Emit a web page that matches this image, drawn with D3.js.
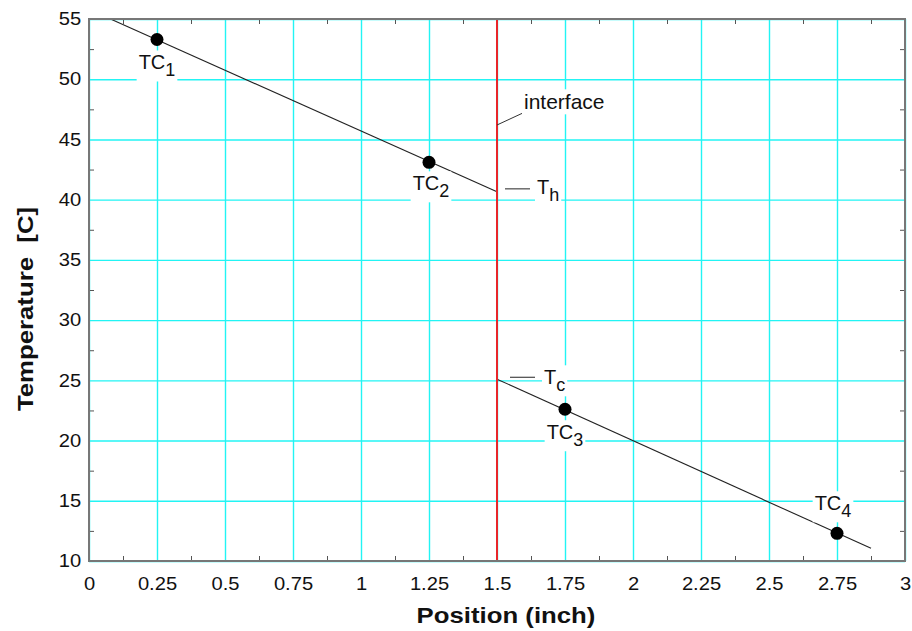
<!DOCTYPE html>
<html>
<head>
<meta charset="utf-8">
<script src="https://cdn.jsdelivr.net/npm/d3@7"></script>
<style>
  body { margin: 0; background: #fff; }
  text { font-family: "Liberation Sans", Arial, sans-serif; fill: #111; }
</style>
</head>
<body>
<div id="chart"></div>
<script>
// thermocouple readings
const tcNames = ["TC", "TC", "TC", "TC"];
const tcSubs = ["1", "2", "3", "4"];
const tcPos = [0.25, 1.25, 1.75, 2.75];
const tcTemp = [53.3, 43.1, 22.6, 12.3];

// fitted lines (hot side / cold side)
const hotLine = [[0.079, 55], [1.5, 40.65]];
const coldLine = [[1.5, 25.1], [2.875, 11.05]];
const interfaceX = 1.5;

const xTicks = [0, 0.25, 0.5, 0.75, 1, 1.25, 1.5, 1.75, 2, 2.25, 2.5, 2.75, 3];
const xTickLabels = ["0", "0.25", "0.5", "0.75", "1", "1.25", "1.5", "1.75", "2", "2.25", "2.5", "2.75", "3"];
const yTicks = [10, 15, 20, 25, 30, 35, 40, 45, 50, 55];
const xMinor = d3.range(0.125, 3, 0.25);
const yMinor = d3.range(12.5, 55, 5);

const width = 912, height = 631;
const margin = { top: 19, right: 7, bottom: 70, left: 89 };
const stretch = 1.12; // the original font runs a bit wide

const svg = d3.select("#chart").append("svg")
    .attr("width", width)
    .attr("height", height);

const x = d3.scaleLinear().domain([0, 3]).range([margin.left, width - margin.right]);
const y = d3.scaleLinear().domain([10, 55]).range([height - margin.bottom, margin.top]);

const plotW = x(3) - x(0), plotH = y(10) - y(55);

// --- grid lines ---
svg.append("g")
    .attr("transform", `translate(0, ${y(10)})`)
    .call(d3.axisBottom(x).tickValues(xTicks).tickSize(-plotH).tickFormat(""))
    .call(g => g.select(".domain").remove())
    .selectAll("line").attr("stroke", "#22f4f4").attr("stroke-width", 1.4);

svg.append("g")
    .attr("transform", `translate(${x(0)}, 0)`)
    .call(d3.axisLeft(y).tickValues(yTicks).tickSize(-plotW).tickFormat(""))
    .call(g => g.select(".domain").remove())
    .selectAll("line").attr("stroke", "#22f4f4").attr("stroke-width", 1.4);

// --- minor ticks (inward, all 4 sides) ---
const tickCol = "#555";
svg.append("g").attr("transform", `translate(0, ${y(10)})`)
    .call(d3.axisBottom(x).tickValues(xMinor).tickSize(-5).tickFormat(""))
    .call(g => g.select(".domain").remove())
    .selectAll("line").attr("stroke", tickCol);
svg.append("g").attr("transform", `translate(0, ${y(55)})`)
    .call(d3.axisTop(x).tickValues(xMinor).tickSize(-5).tickFormat(""))
    .call(g => g.select(".domain").remove())
    .selectAll("line").attr("stroke", tickCol);
svg.append("g").attr("transform", `translate(${x(0)}, 0)`)
    .call(d3.axisLeft(y).tickValues(yMinor).tickSize(-5).tickFormat(""))
    .call(g => g.select(".domain").remove())
    .selectAll("line").attr("stroke", tickCol);
svg.append("g").attr("transform", `translate(${x(3)}, 0)`)
    .call(d3.axisRight(y).tickValues(yMinor).tickSize(-5).tickFormat(""))
    .call(g => g.select(".domain").remove())
    .selectAll("line").attr("stroke", tickCol);

// --- tick labels ---
svg.append("g").attr("transform", `translate(0, ${y(10)})`)
    .call(d3.axisBottom(x).tickValues(xTicks).tickSize(0).tickPadding(16)
        .tickFormat((d, i) => xTickLabels[i]))
    .call(g => g.select(".domain").remove())
    .selectAll("text")
    .style("font-family", "Liberation Sans, Arial, sans-serif")
    .style("font-size", "18px").attr("fill", "#111")
    .attr("transform", `scale(${stretch},1)`);

svg.append("g").attr("transform", `translate(${x(0)}, 0)`)
    .call(d3.axisLeft(y).tickValues(yTicks).tickSize(0).tickPadding(7))
    .call(g => g.select(".domain").remove())
    .selectAll("text")
    .style("font-family", "Liberation Sans, Arial, sans-serif")
    .style("font-size", "18px").attr("fill", "#111")
    .attr("transform", `scale(${stretch},1)`);

// --- fitted lines ---
const line = d3.line().x(d => x(d[0])).y(d => y(d[1]));
svg.append("path").datum(hotLine).attr("d", line)
    .attr("fill", "none").attr("stroke", "#222").attr("stroke-width", 1.1);
svg.append("path").datum(coldLine).attr("d", line)
    .attr("fill", "none").attr("stroke", "#222").attr("stroke-width", 1.1);

// interface line
svg.append("line")
    .attr("x1", x(interfaceX)).attr("x2", x(interfaceX))
    .attr("y1", y(55)).attr("y2", y(10))
    .attr("stroke", "#e8262a").attr("stroke-width", 2);

// --- labels with white boxes ---
function label(px, py, main, sub, anchor, size) {
    const g = svg.append("g");
    const t = g.append("text")
        .attr("x", px).attr("y", py)
        .attr("text-anchor", anchor || "middle")
        .style("font-size", (size || 20) + "px");
    t.append("tspan").text(main);
    if (sub) {
        t.append("tspan").attr("dy", 7).style("font-size", "18px").text(sub);
    }
    const b = t.node().getBBox();
    g.insert("rect", "text")
        .attr("x", b.x - 2).attr("y", b.y - 1)
        .attr("width", b.width + 4).attr("height", b.height + 2)
        .attr("fill", "#fff");
    return g;
}

// TC labels
const labelOffsets = [[0, 30], [2, 28], [0, 30], [-4, -23]];
tcPos.forEach((p, i) => {
    label(x(p) + labelOffsets[i][0], y(tcTemp[i]) + labelOffsets[i][1], tcNames[i], tcSubs[i]);
});

// interface annotation
svg.append("line")
    .attr("x1", x(interfaceX)).attr("y1", y(46.2))
    .attr("x2", x(interfaceX) + 26).attr("y2", y(47.2))
    .attr("stroke", "#333").attr("stroke-width", 1);
label(x(interfaceX) + 27, y(47.5), "interface", null, "start", 21);

// Th / Tc markers
svg.append("line")
    .attr("x1", x(interfaceX) + 8).attr("x2", x(interfaceX) + 33)
    .attr("y1", y(40.9)).attr("y2", y(40.9))
    .attr("stroke", "#555").attr("stroke-width", 1.3);
label(x(interfaceX) + 40, y(40.9) + 5, "T", "h", "start");

svg.append("line")
    .attr("x1", x(interfaceX) + 13).attr("x2", x(interfaceX) + 38)
    .attr("y1", y(25.25)).attr("y2", y(25.25))
    .attr("stroke", "#555").attr("stroke-width", 1.3);
label(x(interfaceX) + 47, y(25.25) + 7, "T", "c", "start");

// points
svg.selectAll(".tc").data(tcPos).enter().append("circle")
    .attr("class", "tc")
    .attr("cx", d => x(d))
    .attr("cy", (d, i) => y(tcTemp[i]))
    .attr("r", 6.5)
    .attr("fill", "#000");

// frame
svg.append("rect")
    .attr("x", x(0)).attr("y", y(55))
    .attr("width", plotW).attr("height", plotH)
    .attr("fill", "none").attr("stroke", "#777").attr("stroke-width", 2);

// axis titles
const xt = (x(0) + x(3)) / 2 + 9;
svg.append("text")
    .attr("transform", `translate(${xt}, 623) scale(${stretch},1)`)
    .attr("text-anchor", "middle")
    .style("font-size", "23px").style("font-weight", "bold")
    .text("Position (inch)");

svg.append("text")
    .attr("transform", `translate(33, 309) rotate(-90) scale(${stretch},1)`)
    .attr("text-anchor", "middle")
    .style("font-size", "23px").style("font-weight", "bold")
    .style("white-space", "pre")
    .attr("xml:space", "preserve")
    .text("Temperature  [C]");
</script>
</body>
</html>
